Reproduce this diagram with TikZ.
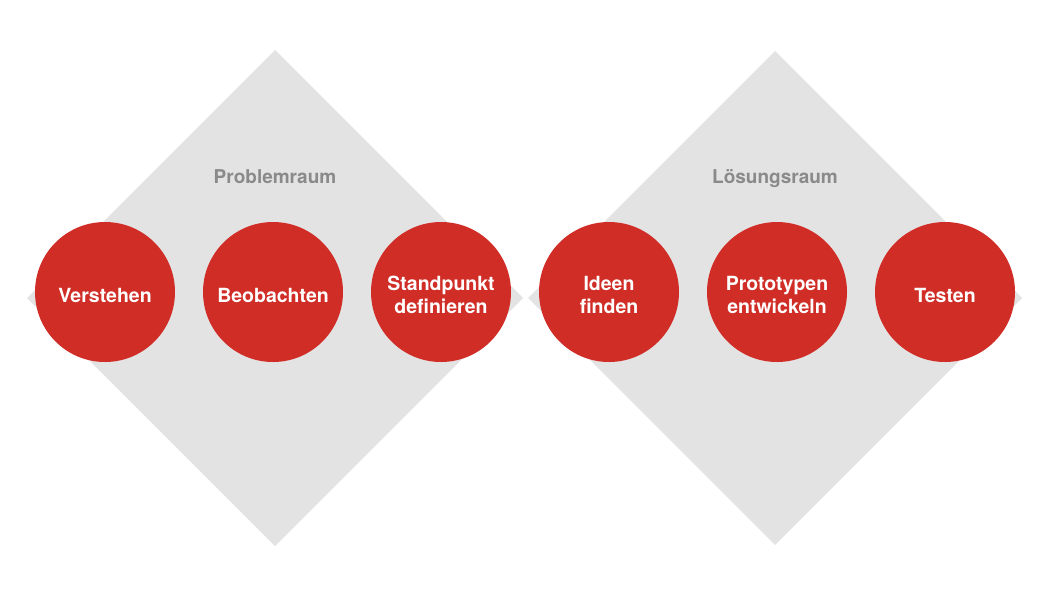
\documentclass[tikz,border=0pt]{standalone}
\usepackage{fontspec}
\setmainfont{TeX Gyre Heros}
\definecolor{dred}{HTML}{D12D27}
\definecolor{dgrey}{HTML}{E3E3E3}
\definecolor{tgrey}{HTML}{8A8A8A}
\begin{document}
\begin{tikzpicture}[x=1pt,y=-1pt,
  phase/.style={circle,fill=dred,minimum size=140pt,inner sep=0pt},
  ptext/.style={text=white,font=\fontsize{19.5}{23}\selectfont\bfseries,align=center,inner sep=0pt},
  space/.style={text=tgrey,anchor=base,font=\fontsize{19}{23}\selectfont\bfseries}]
\useasboundingbox (0,0) rectangle (1064,592);
\fill[dgrey] (275,50) -- (523,298) -- (275,546) -- (27,298) -- cycle;
\fill[dgrey] (775,51) -- (1022,298) -- (775,545) -- (528,298) -- cycle;
\node[space] (pr) at (275,183) {Problemraum};
\node[space] (lr) at (775,183) {Lösungsraum};
\node[phase] (c1) at (105,292) {};
\node[phase] (c2) at (273,292) {};
\node[phase] (c3) at (441,292) {};
\node[phase] (c4) at (609,292) {};
\node[phase] (c5) at (777,292) {};
\node[phase] (c6) at (945,292) {};
\node[ptext] (t1) at ([yshift=-3pt]c1.center) {Verstehen};
\node[ptext] (t2) at ([yshift=-3pt]c2.center) {Beobachten};
\node[ptext] (t3) at ([yshift=-3pt]c3.center) {Standpunkt\\definieren};
\node[ptext] (t4) at ([yshift=-3pt]c4.center) {Ideen\\finden};
\node[ptext] (t5) at ([yshift=-3pt]c5.center) {Prototypen\\entwickeln};
\node[ptext] (t6) at ([yshift=-3pt]c6.center) {Testen};
\end{tikzpicture}
\end{document}
